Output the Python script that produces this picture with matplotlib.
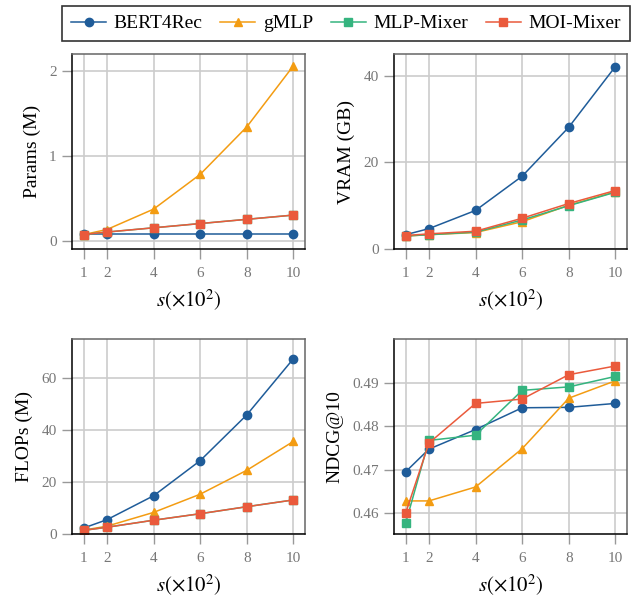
import matplotlib
matplotlib.use("Agg")
import matplotlib.pyplot as plt
from matplotlib.lines import Line2D

plt.rcParams['font.family'] = ['Liberation Serif', 'DejaVu Serif']
plt.rcParams['mathtext.fontset'] = 'stix'

s = [1, 2, 4, 6, 8, 10]
models = ["BERT4Rec", "gMLP", "MLP-Mixer", "MOI-Mixer"]
colors = ["#1f5c99", "#f39c12", "#35b47f", "#ea5a3c"]
markers = ["o", "^", "s", "s"]

params = {
    "BERT4Rec": [0.08, 0.08, 0.08, 0.08, 0.08, 0.08],
    "gMLP": [0.07, 0.13, 0.37, 0.78, 1.34, 2.06],
    "MLP-Mixer": [0.07, 0.10, 0.15, 0.20, 0.25, 0.30],
    "MOI-Mixer": [0.07, 0.10, 0.15, 0.20, 0.25, 0.30],
}
vram = {
    "BERT4Rec": [3.3, 4.7, 8.9, 16.8, 28.1, 42.1],
    "gMLP": [3.0, 3.3, 3.8, 6.3, 10.1, 13.2],
    "MLP-Mixer": [3.0, 3.3, 3.9, 6.7, 10.0, 13.1],
    "MOI-Mixer": [3.1, 3.5, 4.1, 7.1, 10.5, 13.5],
}
flops = {
    "BERT4Rec": [2.3, 5.5, 14.7, 28.2, 45.8, 67.4],
    "gMLP": [1.5, 3.0, 8.3, 15.3, 24.5, 35.6],
    "MLP-Mixer": [1.4, 2.6, 5.3, 7.8, 10.5, 13.1],
    "MOI-Mixer": [1.4, 2.6, 5.3, 7.8, 10.5, 13.1],
}
ndcg = {
    "BERT4Rec": [0.4695, 0.4747, 0.4792, 0.4842, 0.4843, 0.4852],
    "gMLP": [0.4628, 0.4628, 0.4660, 0.4748, 0.4864, 0.4904],
    "MLP-Mixer": [0.4577, 0.4767, 0.4779, 0.4882, 0.4890, 0.4914],
    "MOI-Mixer": [0.4600, 0.4761, 0.4852, 0.4862, 0.4918, 0.4938],
}

panels = [
    (params, "Params (M)", (-0.10, 2.20), [0, 1, 2], None),
    (vram, "VRAM (GB)", (0, 45), [0, 20, 40], None),
    (flops, "FLOPs (M)", (0, 75), [0, 20, 40, 60], None),
    (ndcg, "NDCG@10", (0.4552, 0.5), [0.46, 0.47, 0.48, 0.49], "%.2f"),
]

fig = plt.figure(figsize=(6.34, 6.01), dpi=100)
W, H = 634, 601
boxes = [(72, 54, 305, 249), (394, 54, 627, 249), (72, 339, 305, 534), (394, 339, 627, 534)]

for (data, ylabel, ylim, yticks, fmt), (x0, y0, x1, y1) in zip(panels, boxes):
    ax = fig.add_axes([x0 / W, 1 - y1 / H, (x1 - x0) / W, (y1 - y0) / H])
    ax.set_axisbelow(True)
    ax.grid(True, color="#cccccc", linewidth=1.2)
    for name, c, m in zip(models, colors, markers):
        ms = 5.5 if m == "^" else 6
        ax.plot(s, data[name], color=c, marker=m, markersize=ms, linewidth=1.1, label=name)
    ax.set_xlim(0.5, 10.5)
    ax.set_ylim(*ylim)
    ax.set_xticks(s)
    ax.set_yticks(yticks)
    if fmt:
        ax.set_yticklabels([fmt % v for v in yticks])
    ax.tick_params(axis="both", direction="out", length=7, width=1, color="#999999",
                   labelcolor="#777777", labelsize=11, pad=4)
    ax.tick_params(axis="x", pad=6)
    for sp in ["left", "bottom"]:
        ax.spines[sp].set_color("black")
        ax.spines[sp].set_linewidth(1.1)
    for sp in ["top", "right"]:
        ax.spines[sp].set_color("#666666")
        ax.spines[sp].set_linewidth(1.1)
    ax.set_ylabel(ylabel, fontsize=14, labelpad=6)
    ax.set_xlabel(r"$s(\times10^2)$", fontsize=15, labelpad=6)

handles = [Line2D([0], [0], color=c, marker=m, markersize=6, linewidth=1.1)
           for c, m in zip(colors, markers)]
leg = fig.legend(handles, models, loc="upper center", bbox_to_anchor=(346 / W, 1 - 6 / H),
                 ncol=4, fontsize=14, frameon=True, fancybox=False, edgecolor="black",
                 handlelength=1.8, handletextpad=0.4, columnspacing=0.9, borderpad=0.45,
                 borderaxespad=0)
leg.get_frame().set_linewidth(1.2)

fig.savefig("out.png", dpi=100)
